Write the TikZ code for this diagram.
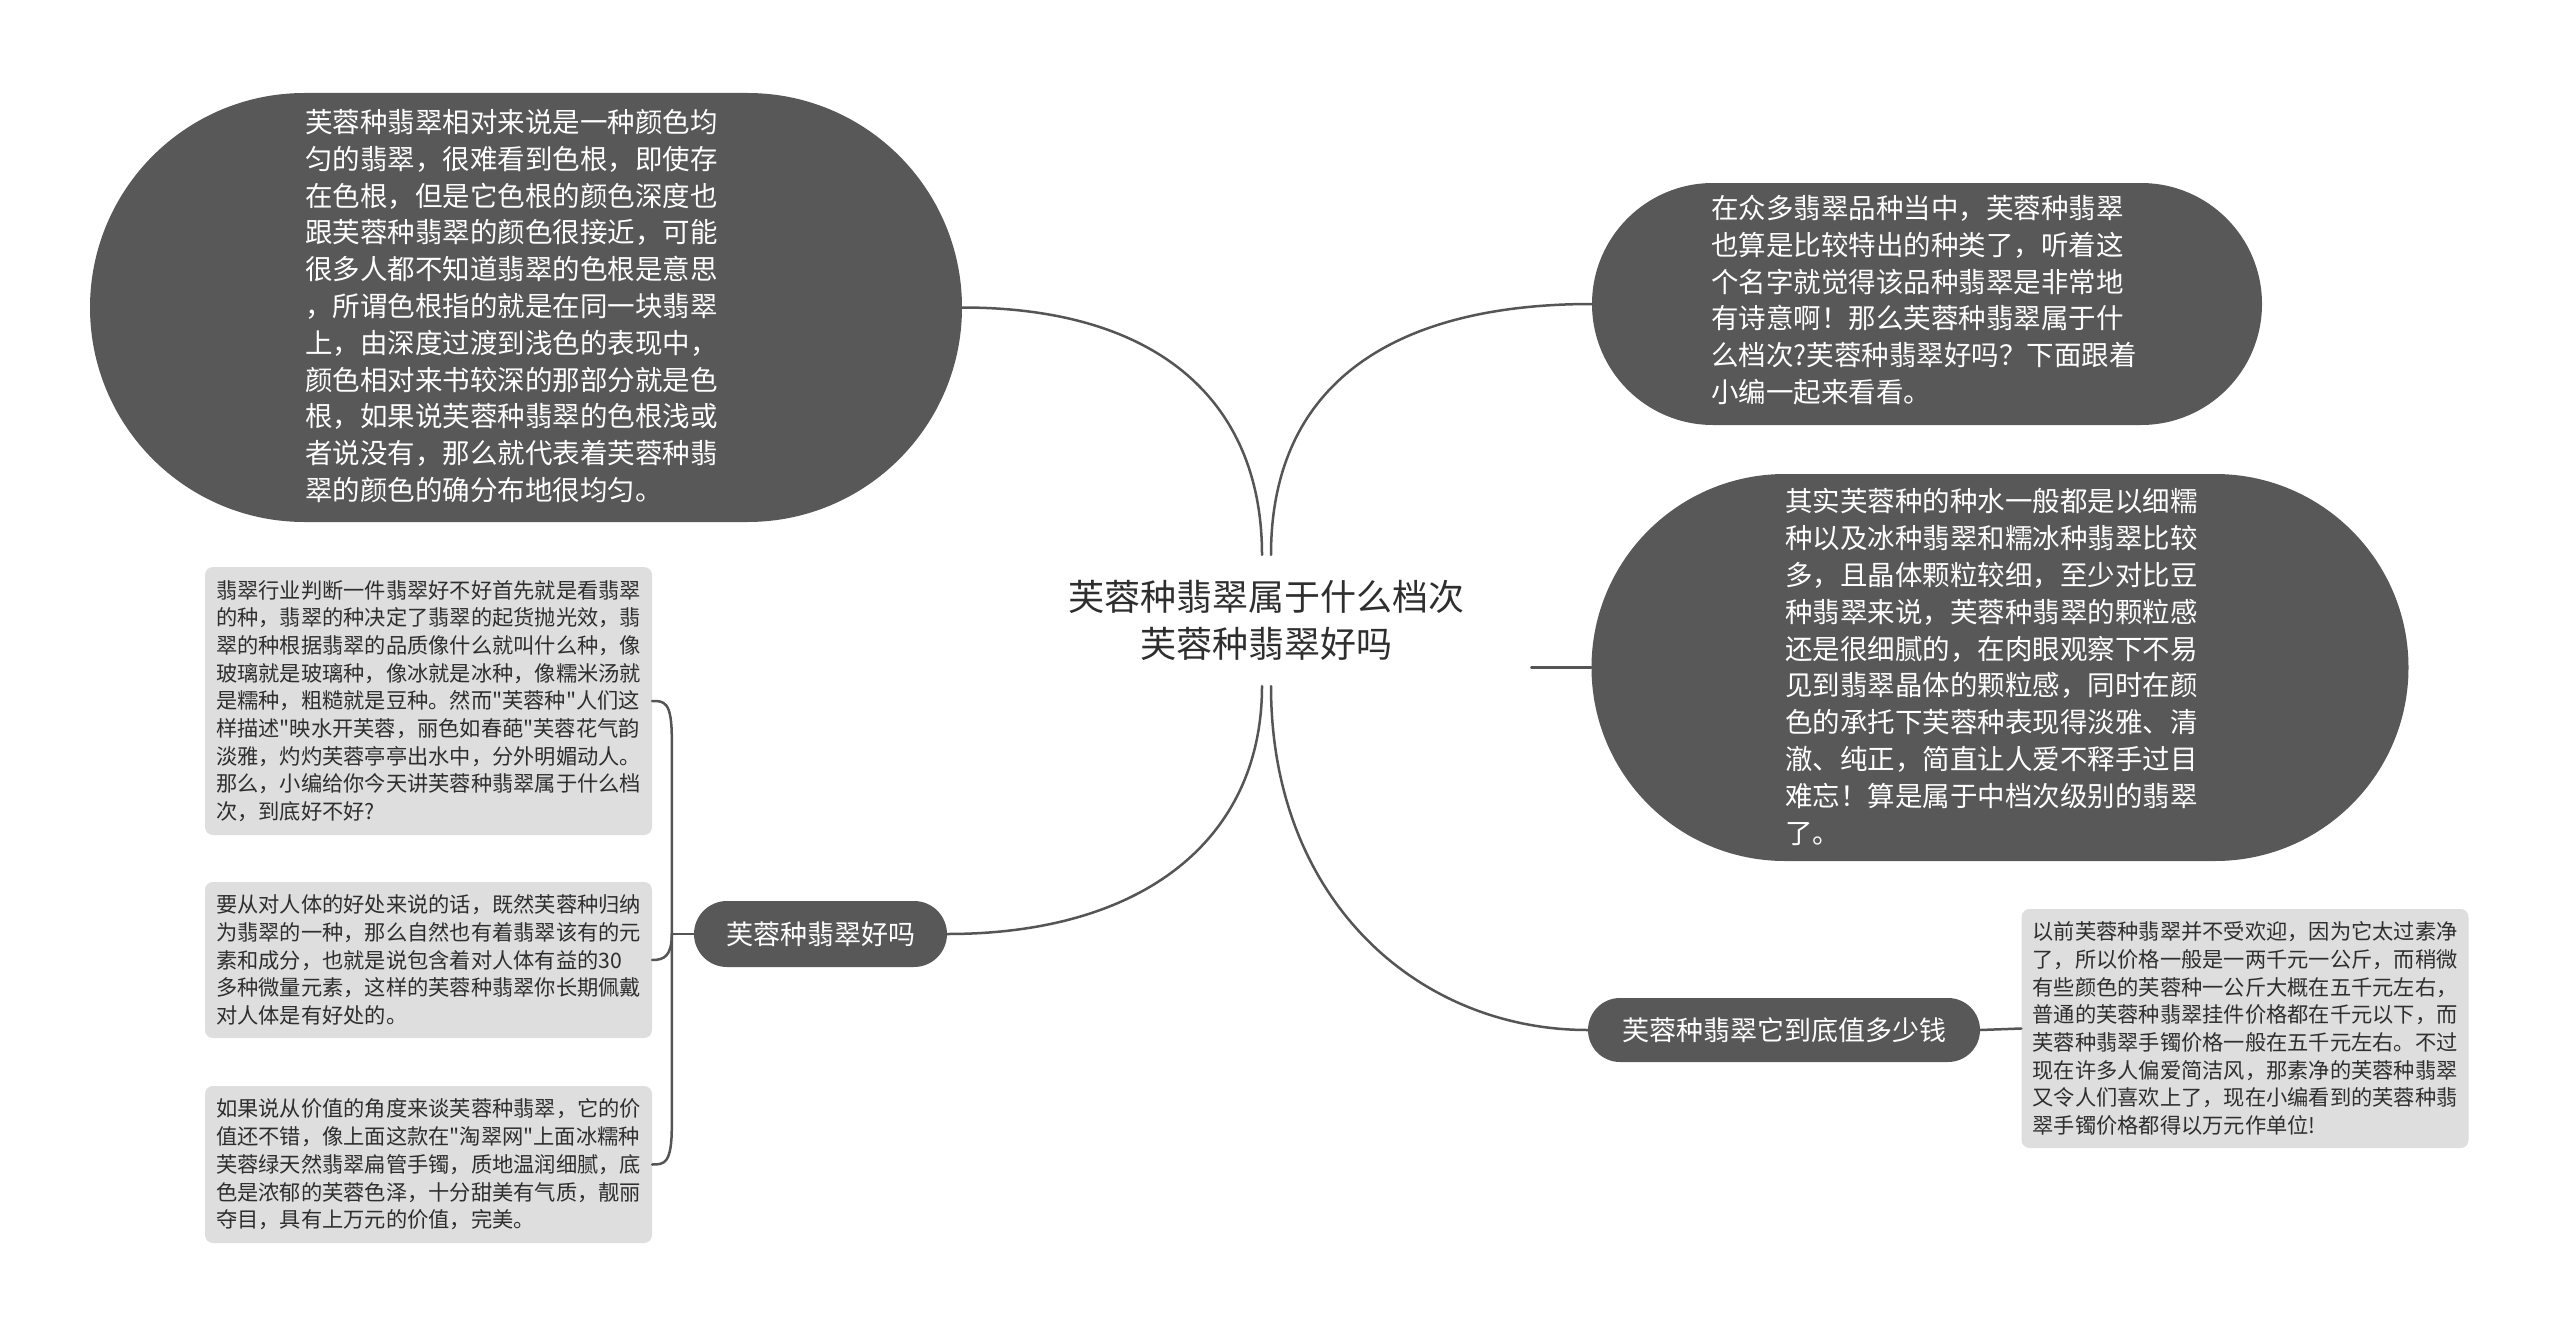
\documentclass[tikz,border=0pt]{standalone}
\usepackage{fontspec}
\setmainfont{Noto Sans CJK SC}
\newfontfamily\cjk{Noto Sans CJK SC}
\usetikzlibrary{shapes.misc,calc}
\definecolor{bub}{HTML}{585858}
\definecolor{lbox}{HTML}{DEDEDE}
\definecolor{conncol}{HTML}{555555}
\definecolor{txt}{HTML}{2E2E2E}
\begin{document}
\begin{tikzpicture}[x=1pt,y=-1pt,
 bubble/.style={rounded rectangle, fill=bub, inner sep=0pt},
 bigtxt/.style={anchor=west, align=left, text=white, inner sep=0pt, font=\cjk\fontsize{27.5}{36.8}\selectfont},
 topic/.style={rounded rectangle, fill=bub, text=white, inner sep=0pt, font=\cjk\fontsize{27}{32}\selectfont},
 note/.style={rectangle, rounded corners=8pt, fill=lbox, text=txt, align=left, inner xsep=11pt, inner ysep=0pt, minimum width=447pt, font=\cjk\fontsize{21.25}{27.7}\selectfont},
 link/.style={draw=conncol, line width=2.5pt, line cap=round}
]
\fill[white] (0,0) rectangle (2560,1335);
\useasboundingbox (0,0) rectangle (2560,1335);

% central topic
\node[align=center, text=txt, inner sep=0pt, minimum height=131pt, font=\cjk\fontsize{36}{47}\selectfont] (c) at (1266,620.5) {芙蓉种翡翠属于什么档次\\芙蓉种翡翠好吗};

% big bubbles
\node[bubble, minimum width=872pt, minimum height=429pt] (tl) at (526,307.5) {};
\node[bigtxt] (tlt) at (305,306) {芙蓉种翡翠相对来说是一种颜色均\\匀的翡翠，很难看到色根，即使存\\在色根，但是它色根的颜色深度也\\跟芙蓉种翡翠的颜色很接近，可能\\很多人都不知道翡翠的色根是意思\\，所谓色根指的就是在同一块翡翠\\上，由深度过渡到浅色的表现中，\\颜色相对来书较深的那部分就是色\\根，如果说芙蓉种翡翠的色根浅或\\者说没有，那么就代表着芙蓉种翡\\翠的颜色的确分布地很均匀。};

\node[bubble, minimum width=670pt, minimum height=242pt] (tr) at (1927,304) {};
\node[bigtxt] (trt) at (1711,300) {在众多翡翠品种当中，芙蓉种翡翠\\也算是比较特出的种类了，听着这\\个名字就觉得该品种翡翠是非常地\\有诗意啊！那么芙蓉种翡翠属于什\\么档次?芙蓉种翡翠好吗？下面跟着\\小编一起来看看。};

\node[bubble, minimum width=817pt, minimum height=387pt] (rm) at (2000,667.5) {};
\node[bigtxt] (rmt) at (1785,667) {其实芙蓉种的种水一般都是以细糯\\种以及冰种翡翠和糯冰种翡翠比较\\多，且晶体颗粒较细，至少对比豆\\种翡翠来说，芙蓉种翡翠的颗粒感\\还是很细腻的，在肉眼观察下不易\\见到翡翠晶体的颗粒感，同时在颜\\色的承托下芙蓉种表现得淡雅、清\\澈、纯正，简直让人爱不释手过目\\难忘！算是属于中档次级别的翡翠\\了。};

% sub topics
\node[topic, minimum width=253pt, minimum height=66pt] (bl) at (820.5,934) {芙蓉种翡翠好吗};
\node[topic, minimum width=392pt, minimum height=64pt] (br) at (1784,1030) {芙蓉种翡翠它到底值多少钱};

% notes
\node[note, minimum height=268pt] (n1) at (428.5,701) {翡翠行业判断一件翡翠好不好首先就是看翡翠\\的种，翡翠的种决定了翡翠的起货抛光效，翡\\翠的种根据翡翠的品质像什么就叫什么种，像\\玻璃就是玻璃种，像冰就是冰种，像糯米汤就\\是糯种，粗糙就是豆种。然而"芙蓉种"人们这\\样描述"映水开芙蓉，丽色如春葩"芙蓉花气韵\\淡雅，灼灼芙蓉亭亭出水中，分外明媚动人。\\那么，小编给你今天讲芙蓉种翡翠属于什么档\\次，到底好不好?};
\node[note, minimum height=156pt] (n2) at (428.5,960) {要从对人体的好处来说的话，既然芙蓉种归纳\\为翡翠的一种，那么自然也有着翡翠该有的元\\素和成分，也就是说包含着对人体有益的30\\多种微量元素，这样的芙蓉种翡翠你长期佩戴\\对人体是有好处的。};
\node[note, minimum height=157pt] (n3) at (428.5,1164.5) {如果说从价值的角度来谈芙蓉种翡翠，它的价\\值还不错，像上面这款在"淘翠网"上面冰糯种\\芙蓉绿天然翡翠扁管手镯，质地温润细腻，底\\色是浓郁的芙蓉色泽，十分甜美有气质，靓丽\\夺目，具有上万元的价值，完美。};
\node[note, minimum height=239pt] (n4) at (2245,1028.5) {以前芙蓉种翡翠并不受欢迎，因为它太过素净\\了，所以价格一般是一两千元一公斤，而稍微\\有些颜色的芙蓉种一公斤大概在五千元左右，\\普通的芙蓉种翡翠挂件价格都在千元以下，而\\芙蓉种翡翠手镯价格一般在五千元左右。不过\\现在许多人偏爱简洁风，那素净的芙蓉种翡翠\\又令人们喜欢上了，现在小编看到的芙蓉种翡\\翠手镯价格都得以万元作单位!};

% main connectors
\coordinate (c1) at ($(c.north)+(-4,0)$);
\coordinate (c2) at ($(c.north)+(5,0)$);
\coordinate (c3) at ($(c.south)+(-4,0)$);
\coordinate (c4) at ($(c.south)+(5,0)$);
\draw[link] (c1) .. controls ($(c1)+(0,-150)$) and ($(tl.east)+(200,0)$) .. (tl.east);
\draw[link] (c2) .. controls ($(c2)+(0,-170)$) and ($(tr.west)+(-200,0)$) .. (tr.west);
\draw[link] (c3) .. controls ($(c3)+(0,150)$) and ($(bl.east)+(200,0)$) .. (bl.east);
\draw[link] (c4) .. controls ($(c4)+(0,214)$) and ($(br.west)+(-170,0)$) .. (br.west);
\coordinate (s) at ($(rm.west)+(-60,0)$);
\draw[link] (s) -- (rm.west);

% left bracket
\coordinate (j) at ($(bl.west)+(-22,0)$);
\draw[link] (bl.west) -- (j);
\draw[link] (j) -- ($(j)+(0,-195)$) .. controls ($(j)+(0,-233)$) and ($(n1.east)+(12,0)$) .. (n1.east);
\draw[link] (j) .. controls ($(j)+(0,22)$) and ($(n2.east)+(12,0)$) .. (n2.east);
\draw[link] (j) -- ($(j)+(0,192)$) .. controls ($(j)+(0,230)$) and ($(n3.east)+(12,0)$) .. (n3.east);

% right note link
\draw[link] (br.east) -- (n4.west);
\end{tikzpicture}
\end{document}
